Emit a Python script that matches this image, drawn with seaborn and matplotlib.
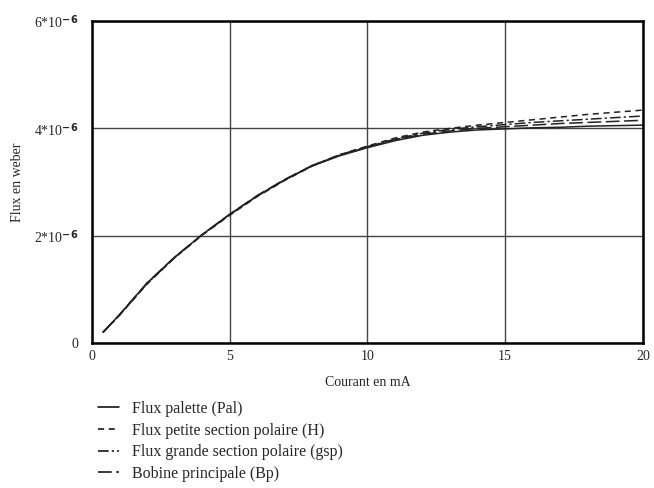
import matplotlib
matplotlib.use('Agg')
import pandas as pd
import seaborn as sns
import matplotlib.pyplot as plt
from matplotlib.ticker import FuncFormatter

# Values (flux in units of 1e-6 Wb)
courant = [0.4, 1, 2, 3, 4, 5, 6, 7, 8, 9, 10, 11, 12, 13, 14, 15, 16, 17, 18, 19, 20]
flux_pal = [0.20, 0.53, 1.12, 1.60, 2.02, 2.40, 2.74, 3.04, 3.30, 3.49, 3.64, 3.77, 3.87, 3.93, 3.97, 3.99, 4.01, 4.02, 4.04, 4.05, 4.06]
flux_h = [0.20, 0.52, 1.10, 1.59, 2.01, 2.38, 2.73, 3.03, 3.30, 3.51, 3.67, 3.82, 3.93, 4.00, 4.06, 4.11, 4.16, 4.21, 4.26, 4.30, 4.34]
flux_gsp = [0.20, 0.52, 1.11, 1.59, 2.02, 2.39, 2.74, 3.04, 3.31, 3.51, 3.66, 3.80, 3.91, 3.98, 4.03, 4.07, 4.11, 4.14, 4.17, 4.20, 4.23]
flux_bp = [0.20, 0.53, 1.12, 1.60, 2.02, 2.40, 2.75, 3.05, 3.31, 3.50, 3.65, 3.79, 3.89, 3.95, 4.00, 4.03, 4.06, 4.09, 4.11, 4.13, 4.15]
noms = ["Flux palette (Pal)", "Flux petite section polaire (H)",
        "Flux grande section polaire (gsp)", "Bobine principale (Bp)"]

rows = []
for nom, serie in zip(noms, [flux_pal, flux_h, flux_gsp, flux_bp]):
    for x, y in zip(courant, serie):
        rows.append({"Courant": x, "Flux": y * 1e-6, "Serie": nom})
df = pd.DataFrame(rows)

sns.set_style("white")
plt.rcParams['font.family'] = ['Liberation Serif', 'DejaVu Serif']
plt.rcParams['mathtext.default'] = 'regular'

fig = plt.figure(figsize=(6.54, 4.88), dpi=100)
ax = fig.add_axes([0.1407, 0.297, 0.8423, 0.660])

styles = {noms[0]: "", noms[1]: (4, 3), noms[2]: (7, 2, 1.5, 2), noms[3]: (9, 3)}
sns.lineplot(data=df, x="Courant", y="Flux", style="Serie", dashes=styles,
             color="#222222", linewidth=1.1, ax=ax, legend=True)

ax.set_xlim(0, 20)
ax.set_ylim(0, 6e-6)
ax.set_xticks([0, 5, 10, 15, 20])
ax.set_yticks([0, 2e-6, 4e-6, 6e-6])
ax.yaxis.set_major_formatter(FuncFormatter(
    lambda v, p: "0" if v == 0 else r"%d*10$^{\mathbf{-6}}$" % round(v * 1e6)))
ax.grid(True, color="#444444", linewidth=1.0)
for s in ax.spines.values():
    s.set_color("black")
    s.set_linewidth(1.8)
ax.tick_params(axis="x", length=0, labelsize=10, pad=5)
ax.tick_params(axis="y", length=0, labelsize=10, pad=10)
ax.set_xlabel("Courant en mA", fontsize=10, labelpad=9)
ax.set_ylabel("Flux en weber", fontsize=10, labelpad=7)

leg = ax.legend(loc="upper left", bbox_to_anchor=(-0.015, -0.135), frameon=False,
                fontsize=11.5, handlelength=1.3, labelspacing=0.35, title=None)
for line in leg.get_lines():
    line.set_color("black")

plt.savefig("out.png", dpi=100)
